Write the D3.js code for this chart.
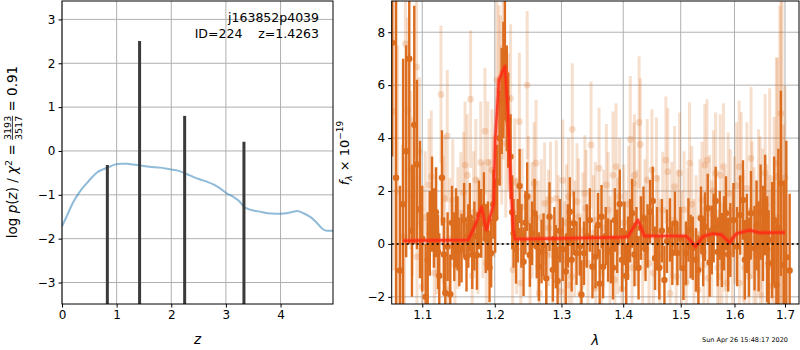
<!DOCTYPE html>
<html><head><meta charset="utf-8">
<script src="https://cdn.jsdelivr.net/npm/d3@7/dist/d3.min.js"></script>
<style>body{margin:0;background:#fff} text{font-family:"DejaVu Sans",sans-serif;fill:#000}</style>
</head><body><svg id="c" width="800" height="350"></svg>
<script>
// ---- left panel: p(z)
const pzZ = [0,0.1,0.2,0.33,0.45,0.55,0.64,0.75,0.85,1.0,1.1,1.2,1.3,1.43,1.6,1.8,1.98,2.15,2.29,2.4,2.53,2.65,2.78,2.9,3.02,3.15,3.24,3.33,3.4,3.51,3.65,3.76,3.9,4.0,4.15,4.31,4.42,4.55,4.65,4.77,4.85,4.96];
const pzLog = [-1.72,-1.45,-1.18,-0.92,-0.74,-0.6,-0.49,-0.42,-0.37,-0.3,-0.29,-0.29,-0.31,-0.33,-0.36,-0.38,-0.42,-0.46,-0.53,-0.59,-0.65,-0.7,-0.77,-0.86,-0.97,-1.06,-1.14,-1.27,-1.32,-1.36,-1.39,-1.42,-1.43,-1.43,-1.41,-1.37,-1.42,-1.51,-1.62,-1.78,-1.82,-1.82];
const peakZ = [0.83,1.42,2.245,3.33];
const peakLog = [-0.32,2.51,0.80,0.21];
const zTicks = [0,1,2,3,4];
const pTicks = [-3,-2,-1,0,1,2,3];

// ---- right panel: spectrum
const darkLam = [1.061,1.066,1.071,1.075,1.079,1.083,1.0865,1.0895,1.093,1.097,1.100,1.1045,1.1072,1.110,1.113,1.1155,1.1182,1.121,1.1227,1.1263,1.129,1.1308,1.134,1.1376,1.140,1.1431,1.1455,1.1476,1.150,1.1531,1.1567,1.160,1.1625,1.1647,1.168,1.171,1.1746,1.1775,1.1806,1.1845,1.187,1.1902,1.1925,1.1948,1.198,1.2006,1.2035,1.207,1.210,1.2125,1.2147,1.2175,1.2195,1.223,1.2255,1.2274,1.231,1.2336,1.2363,1.239,1.2422,1.245,1.2476,1.2516,1.255,1.2587,1.262,1.2652,1.2693,1.2724,1.2765,1.2815,1.2866,1.289,1.2912,1.294,1.2975,1.302,1.3068,1.310,1.3131,1.316,1.3194,1.3237,1.329,1.3316,1.3357,1.340,1.345,1.3493,1.3542,1.3584,1.361,1.364,1.3666,1.371,1.3748,1.3793,1.383,1.386,1.390,1.3942,1.398,1.402,1.405,1.4082,1.4115,1.415,1.419,1.4225,1.426,1.430,1.4345,1.438,1.4415,1.4458,1.4505,1.4545,1.458,1.462,1.4665,1.471,1.4755,1.4808,1.485,1.4897,1.494,1.4995,1.505,1.5095,1.514,1.518,1.5218,1.5278,1.5322,1.537,1.541,1.5443,1.5494,1.553,1.557,1.5605,1.5643,1.568,1.572,1.576,1.580,1.5838,1.588,1.592,1.598,1.605,1.611,1.6164,1.620,1.624,1.628,1.632,1.639,1.643,1.647,1.651,1.6557,1.660,1.664,1.667,1.6737,1.678,1.6825,1.6865,1.6916,1.6975,1.7027,1.7095];
const darkFlux = [7.6,2.5,-1.0,1.5,3.5,7.0,0.5,4.5,3.0,1.3,0.2,-2.0,-0.6,0.4,1.5,0.6,1.2,-0.3,-1.2,2.5,-0.4,-1.85,-0.1,-1.9,0.8,-0.1,0.6,0.4,-0.3,-0.16,0.9,-0.5,0.3,1.0,-0.4,0.3,-0.43,1.1,0.78,1.41,0.2,0.4,-0.9,-0.35,1.5,0.97,2.35,4.0,5.4,6.2,7.07,5.5,4.68,3.3,1.2,0.4,-0.2,0.5,2.19,0.3,-0.67,0.8,1.79,-0.42,0.4,1.16,-0.1,-0.86,-0.29,-0.04,-1.3,1.03,-0.98,0.2,-0.48,-1.4,0.5,-0.2,-1.04,0.3,1.22,-0.6,0.78,-0.35,-0.1,-1.92,-0.35,0.3,0.9,-0.86,-0.48,0.72,-1.5,1.03,-0.86,0.3,-0.23,-0.29,-0.9,0.9,0.1,1.51,-0.6,0.4,-1.2,-0.16,0.5,1.16,-0.4,0.2,-0.9,0.6,0.97,-0.2,0.3,1.22,1.62,-0.54,0.2,-0.9,0.5,-1.36,0.1,0.53,-0.35,0.78,-0.35,0.2,-0.92,-0.35,0.53,-0.1,-0.16,-0.6,-0.98,0.97,-0.3,0.65,1.35,-0.7,0.15,0.6,1.62,-0.3,0.7,-0.23,0.4,1.16,-0.4,0.15,0.9,-0.1,1.09,1.66,-0.6,0.4,-0.5,1.16,-0.16,0.7,-0.1,1.2,0.4,1.47,-0.2,-0.73,0.15,0.9,-1.55,0.6,2.29,-0.8,-0.5,-1.0];
const darkErr = [4.3,7.5,3.2,5.5,4.0,7.0,2.5,4.5,3.2,2.6,2.0,2.0,1.8,1.6,1.8,1.5,1.7,1.4,1.6,1.8,1.4,1.5,1.3,1.5,1.4,1.3,1.5,1.4,1.3,1.3,1.4,1.3,1.2,1.3,1.3,1.3,1.3,1.3,1.3,1.3,1.3,1.2,1.3,1.3,1.3,1.3,1.4,1.8,2.0,2.2,2.4,2.0,1.8,1.6,1.4,1.3,1.3,1.2,1.4,1.2,1.3,1.2,1.3,1.2,1.2,1.3,1.2,1.3,1.2,1.2,1.3,1.3,1.2,1.2,1.2,1.3,1.2,1.2,1.3,1.2,1.3,1.2,1.2,1.2,1.1,1.3,1.2,1.2,1.2,1.2,1.2,1.2,1.3,1.2,1.2,1.1,1.2,1.2,1.2,1.2,1.2,1.3,1.2,1.2,1.2,1.2,1.2,1.3,1.2,1.2,1.2,1.2,1.2,1.2,1.2,1.2,1.3,1.2,1.2,1.2,1.2,1.3,1.2,1.2,1.2,1.2,1.2,1.2,1.2,1.2,1.2,1.2,1.2,1.2,1.3,1.2,1.3,1.3,1.3,1.3,1.3,1.3,1.3,1.3,1.3,1.4,1.4,1.4,1.4,1.4,1.4,1.5,1.5,1.5,1.5,1.5,1.5,1.6,1.6,1.7,1.7,1.8,1.8,1.9,2.0,2.0,2.2,2.4,2.5,3.0,3.5,3.2,4.4,2.9];

const lightLam = [1.063,1.068,1.074,1.077,1.078,1.081,1.085,1.087,1.0925,1.093,1.096,1.100,1.104,1.109,1.112,1.116,1.119,1.125,1.128,1.130,1.1335,1.134,1.137,1.141,1.144,1.148,1.152,1.156,1.158,1.161,1.1657,1.168,1.170,1.173,1.176,1.180,1.183,1.186,1.188,1.190,1.193,1.196,1.199,1.203,1.206,1.208,1.210,1.212,1.216,1.2195,1.223,1.226,1.229,1.232,1.236,1.238,1.240,1.2476,1.2495,1.252,1.255,1.258,1.261,1.264,1.266,1.269,1.274,1.277,1.280,1.283,1.287,1.292,1.295,1.299,1.302,1.305,1.308,1.311,1.3115,1.316,1.317,1.321,1.3245,1.327,1.330,1.334,1.337,1.339,1.342,1.347,1.351,1.354,1.3545,1.360,1.364,1.3675,1.372,1.375,1.378,1.383,1.386,1.388,1.391,1.394,1.398,1.401,1.405,1.409,1.412,1.415,1.418,1.419,1.423,1.427,1.429,1.433,1.437,1.441,1.444,1.449,1.4515,1.457,1.460,1.463,1.468,1.4735,1.477,1.481,1.484,1.489,1.492,1.495,1.498,1.502,1.506,1.510,1.513,1.516,1.520,1.524,1.528,1.532,1.535,1.539,1.542,1.544,1.548,1.550,1.553,1.557,1.560,1.5643,1.568,1.571,1.573,1.576,1.579,1.582,1.585,1.588,1.592,1.596,1.600,1.604,1.609,1.6095,1.613,1.617,1.620,1.624,1.628,1.632,1.634,1.638,1.642,1.647,1.650,1.651,1.655,1.660,1.663,1.667,1.669,1.674,1.678,1.6825,1.6845,1.6895,1.6916,1.694,1.697,1.700];
const lightFlux = [5.0,2.0,0.25,0.28,7.56,5.06,2.79,1.79,6.69,-0.48,3.5,-1.61,1.0,2.23,2.54,-1.1,0.5,5.65,0.9,1.72,4.08,-1.74,0.2,1.66,-0.8,0.6,1.16,1.94,2.98,2.6,5.47,-1.2,1.2,2.42,0.3,3.08,0.9,4.26,-0.73,3.08,1.0,2.79,1.8,6.19,5.81,5.43,4.49,6.5,3.8,4.6,5.5,-0.98,2.35,0.3,4.62,-1.48,1.41,6.0,1.79,-0.5,0.9,2.3,3.05,0.2,-1.86,1.0,1.53,-0.4,0.6,1.66,-1.2,1.72,0.4,-1.8,2.4,-0.6,0.8,1.79,-1.55,-1.23,4.33,0.2,1.6,1.03,-1.86,0.5,1.91,1.35,-0.73,3.74,0.4,0.9,-1.67,2.86,-1.1,0.6,2.23,1.28,-0.4,2.6,-1.36,2.92,0.3,1.79,-1.7,0.8,-0.2,1.5,3.95,-0.9,2.29,2.6,0.6,4.59,3.76,-0.48,1.0,2.42,-0.73,2.79,-1.1,2.48,0.4,-0.48,1.28,3.17,2.73,-1.86,0.9,2.16,-1.23,0.6,2.67,-0.2,1.3,-1.48,0.7,3.05,1.5,-0.5,0.4,-1.74,1.0,1.66,-0.8,2.98,3.17,-1.29,1.16,0.2,2.0,2.67,-0.9,-1.23,2.6,-0.73,2.92,0.5,-1.48,1.91,1.28,-0.3,0.9,2.2,2.92,-1.48,2.48,0.3,-0.9,2.1,-1.23,3.23,1.28,0.2,-0.4,1.53,1.16,-1.92,0.6,2.67,-0.2,-0.86,2.48,-1.6,1.0,3.05,2.54,1.0,4.93,2.0,0.5,2.5];
const lightErr = [6.0,5.5,3.5,3.0,4.0,3.5,3.0,3.0,3.5,3.0,2.8,2.6,2.5,2.5,2.5,2.4,2.4,2.6,2.4,2.4,2.5,2.4,2.3,2.3,2.3,2.3,2.3,2.3,2.4,2.3,2.6,2.3,2.3,2.3,2.2,2.3,2.2,2.4,2.2,2.3,2.2,2.3,2.3,3.0,3.2,3.2,3.0,3.3,2.8,2.6,2.8,2.3,2.4,2.2,2.6,2.3,2.2,2.8,2.3,2.2,2.2,2.3,2.4,2.2,2.2,2.2,2.3,2.2,2.2,2.2,2.2,2.2,2.2,2.2,2.3,2.2,2.2,2.2,2.2,2.2,2.5,2.2,2.2,2.2,2.2,2.2,2.2,2.2,2.2,2.4,2.2,2.2,2.2,2.3,2.2,2.2,2.3,2.2,2.2,2.4,2.2,2.4,2.2,2.2,2.2,2.2,2.2,2.2,2.4,2.2,2.3,2.3,2.2,2.5,2.5,2.2,2.2,2.3,2.2,2.3,2.2,2.3,2.2,2.2,2.2,2.4,2.4,2.2,2.2,2.3,2.2,2.2,2.3,2.2,2.2,2.2,2.2,2.3,2.2,2.2,2.2,2.2,2.2,2.2,2.2,2.3,2.3,2.2,2.2,2.2,2.3,2.3,2.2,2.3,2.3,2.3,2.4,2.3,2.3,2.3,2.3,2.3,2.4,2.4,2.5,2.4,2.5,2.5,2.5,2.5,2.6,2.7,2.6,2.7,2.8,2.8,2.9,2.9,3.0,3.0,3.2,3.2,3.4,3.5,3.8,4.0,4.5,8.0,9.0,10.0,4.0,3.5];

const modelLam = [1.075,1.1623,1.172,1.181,1.188,1.194,1.1985,1.2006,1.206,1.2147,1.219,1.223,1.227,1.2295,1.40,1.408,1.425,1.436,1.51,1.5271,1.5407,1.559,1.575,1.5907,1.6037,1.6295,1.649,1.70];
const modelFlux = [0.12,0.15,0.7,1.38,0.53,1.1,1.5,3.9,6.2,6.7,5.05,2.4,0.53,0.18,0.25,0.28,0.9,0.3,0.3,-0.1,0.28,0.39,0.35,0.05,0.39,0.52,0.42,0.43];

const lamTicks = [1.1,1.2,1.3,1.4,1.5,1.6,1.7];
const fTicks = [-2,0,2,4,6,8];

const svg = d3.select("#c");
const FS = 12;
const LFS = 13.5;
const minus = s => String(s).replace("-", "\u2212");

// ===== LEFT PANEL =====
const L = {x0:62, x1:333, y0:1, y1:304};
const xz = d3.scaleLinear().domain([0,4.96]).range([L.x0,L.x1]);
const yp = d3.scaleLinear().domain([-3.49,3.42]).range([L.y1,L.y0]);
const gl = svg.append("g");
gl.append("defs").append("clipPath").attr("id","clipL").append("rect")
  .attr("x",L.x0).attr("y",L.y0).attr("width",L.x1-L.x0).attr("height",L.y1-L.y0);
gl.selectAll(".gx").data(zTicks).join("line").attr("x1",d=>xz(d)).attr("x2",d=>xz(d))
  .attr("y1",L.y0).attr("y2",L.y1).attr("stroke","#b0b0b0").attr("stroke-width",1);
gl.selectAll(".gy").data(pTicks).join("line").attr("y1",d=>yp(d)).attr("y2",d=>yp(d))
  .attr("x1",L.x0).attr("x2",L.x1).attr("stroke","#b0b0b0").attr("stroke-width",1);
const lc = gl.append("g").attr("clip-path","url(#clipL)");
lc.append("path").datum(pzZ.map((z,i)=>[z,pzLog[i]]))
  .attr("d", d3.line().x(d=>xz(d[0])).y(d=>yp(d[1])).curve(d3.curveMonotoneX))
  .attr("fill","none").attr("stroke","#1f77b4").attr("stroke-opacity",0.5).attr("stroke-width",2);
lc.selectAll(".pk").data(peakZ).join("line")
  .attr("x1",d=>xz(d)).attr("x2",d=>xz(d))
  .attr("y1",yp(-3.49)).attr("y2",(d,i)=>yp(peakLog[i]))
  .attr("stroke","#3a3a3a").attr("stroke-width",3);
gl.append("g").attr("transform",`translate(0,${L.y1})`)
  .call(d3.axisBottom(xz).tickValues(zTicks).tickFormat(d=>d).tickSizeOuter(0).tickSize(3.5));
gl.append("g").attr("transform",`translate(${L.x0},0)`)
  .call(d3.axisLeft(yp).tickValues(pTicks).tickFormat(minus).tickSizeOuter(0).tickSize(3.5));
gl.append("rect").attr("x",L.x0).attr("y",L.y0).attr("width",L.x1-L.x0).attr("height",L.y1-L.y0)
  .attr("fill","none").attr("stroke","#000").attr("stroke-width",1);
gl.append("text").attr("x",319).attr("y",22).attr("text-anchor","end").style("font-size","12.5px").text("j163852p4039");
gl.append("text").attr("x",319).attr("y",38).attr("text-anchor","end").style("font-size","12.5px")
  .style("white-space","pre").text("ID=224    z=1.4263");
gl.append("text").attr("x",(L.x0+L.x1)/2).attr("y",344).attr("text-anchor","middle")
  .style("font-size","13.5px").style("font-style","italic").text("z");

(function(){
  const outer = svg.append("g").attr("transform","translate(17,152) rotate(-90)");
  const g = outer.append("g");
  let xc = 0;
  function piece(str, italic, size, y){
    const t = g.append("text").attr("x",xc).attr("y",y||0).style("font-size",(size||LFS)+"px")
      .style("font-style",italic?"italic":"normal").style("white-space","pre").text(str);
    xc += t.node().getComputedTextLength(); return t;
  }
  piece("log ");
  piece("p", true); piece("("); piece("z", true); piece(") / ");
  piece("\u03c7", true); piece("2", false, 9.5, -5.5); piece(" = ");
  const fx = xc;
  const n = g.append("text").attr("y",-6.5).style("font-size","9.5px").text("3193");
  const dd = g.append("text").attr("y",4.5).style("font-size","9.5px").text("3517");
  const w = Math.max(n.node().getComputedTextLength(), dd.node().getComputedTextLength());
  n.attr("x",fx+w/2).attr("text-anchor","middle");
  dd.attr("x",fx+w/2).attr("text-anchor","middle");
  g.append("line").attr("x1",fx).attr("x2",fx+w).attr("y1",-4.6).attr("y2",-4.6).attr("stroke","#000").attr("stroke-width",0.8);
  xc = fx + w;
  piece(" = 0.91");
  g.attr("transform",`translate(${-xc/2},0)`);
})();

// ===== RIGHT PANEL =====
const R = {x0:391.7, x1:799, y0:1, y1:304};
const xl = d3.scaleLog().domain([1.0604,1.7288]).range([R.x0,R.x1]);
const yf = d3.scaleLinear().domain([-2.27,9.18]).range([R.y1,R.y0]);
const gr = svg.append("g");
gr.append("defs").append("clipPath").attr("id","clipR").append("rect")
  .attr("x",R.x0).attr("y",R.y0).attr("width",R.x1-R.x0).attr("height",R.y1-R.y0);
gr.selectAll(".gx").data(lamTicks).join("line").attr("x1",d=>xl(d)).attr("x2",d=>xl(d))
  .attr("y1",R.y0).attr("y2",R.y1).attr("stroke","#b0b0b0").attr("stroke-width",1);
gr.selectAll(".gy").data(fTicks).join("line").attr("y1",d=>yf(d)).attr("y2",d=>yf(d))
  .attr("x1",R.x0).attr("x2",R.x1).attr("stroke","#b0b0b0").attr("stroke-width",1);
const rc = gr.append("g").attr("clip-path","url(#clipR)");
const ORANGE = "#dc6d1e";
const lg = rc.append("g");
lg.selectAll("line").data(lightLam).join("line")
  .attr("x1",d=>xl(d)).attr("x2",d=>xl(d))
  .attr("y1",(d,i)=>yf(lightFlux[i]-lightErr[i])).attr("y2",(d,i)=>yf(lightFlux[i]+lightErr[i]))
  .attr("stroke",ORANGE).attr("stroke-opacity",0.22).attr("stroke-width",3);
lg.selectAll("circle").data(lightLam).join("circle")
  .attr("cx",d=>xl(d)).attr("cy",(d,i)=>yf(lightFlux[i])).attr("r",3.4)
  .attr("fill",ORANGE).attr("fill-opacity",0.22);
const dg = rc.append("g");
dg.selectAll("line").data(darkLam).join("line")
  .attr("x1",d=>xl(d)).attr("x2",d=>xl(d))
  .attr("y1",(d,i)=>yf(darkFlux[i]-darkErr[i])).attr("y2",(d,i)=>yf(darkFlux[i]+darkErr[i]))
  .attr("stroke",ORANGE).attr("stroke-width",2.4);
dg.selectAll("circle").data(darkLam).join("circle")
  .attr("cx",d=>xl(d)).attr("cy",(d,i)=>yf(darkFlux[i])).attr("r",3.2).attr("fill",ORANGE);
const mline = d3.line().x(d=>xl(d[0])).y(d=>yf(d[1]));
const md = modelLam.map((l,i)=>[l,modelFlux[i]]);
rc.append("path").datum(md).attr("d",mline).attr("fill","none").attr("stroke","#ff3020")
  .attr("stroke-opacity",0.3).attr("stroke-width",5).attr("stroke-linejoin","round");
rc.append("path").datum(md).attr("d",mline).attr("fill","none").attr("stroke","#ff2a14")
  .attr("stroke-opacity",0.85).attr("stroke-width",2.5).attr("stroke-linejoin","round");
rc.append("line").attr("x1",R.x0).attr("x2",R.x1).attr("y1",yf(0)).attr("y2",yf(0))
  .attr("stroke","#000").attr("stroke-width",2).attr("stroke-dasharray","2,3").attr("stroke-opacity",0.85);
gr.append("g").attr("transform",`translate(0,${R.y1})`)
  .call(d3.axisBottom(xl).tickValues(lamTicks).tickFormat(d3.format(".1f")).tickSizeOuter(0).tickSize(3.5));
gr.append("g").attr("transform",`translate(${R.x0},0)`)
  .call(d3.axisLeft(yf).tickValues(fTicks).tickFormat(minus).tickSizeOuter(0).tickSize(3.5));
gr.append("rect").attr("x",R.x0).attr("y",R.y0).attr("width",R.x1-R.x0).attr("height",R.y1-R.y0)
  .attr("fill","none").attr("stroke","#000").attr("stroke-width",1);
gr.append("text").attr("x",(R.x0+R.x1)/2).attr("y",345).attr("text-anchor","middle")
  .style("font-size","13.5px").style("font-style","italic").text("\u03bb");
gr.append("text").attr("x",788).attr("y",342).attr("text-anchor","end").style("font-size","6.5px")
  .text("Sun Apr 26 15:48:17 2020");
(function(){
  const outer = svg.append("g").attr("transform","translate(349,153) rotate(-90)");
  const g = outer.append("g");
  let xc = 0;
  function piece(str, italic, size, y){
    const t = g.append("text").attr("x",xc).attr("y",y||0).style("font-size",(size||13)+"px")
      .style("font-style",italic?"italic":"normal").style("white-space","pre").text(str);
    xc += t.node().getComputedTextLength(); return t;
  }
  piece("f", true); piece("\u03bb", true, 9, 3); piece(" \u00d7 10"); piece("\u221219", false, 9, -6);
  g.attr("transform",`translate(${-xc/2},0)`);
})();

svg.selectAll(".tick text").style("font-size",FS+"px").style("font-family","DejaVu Sans");
svg.selectAll(".domain").remove();
svg.selectAll(".tick line").attr("stroke","#000");
</script></body></html>
